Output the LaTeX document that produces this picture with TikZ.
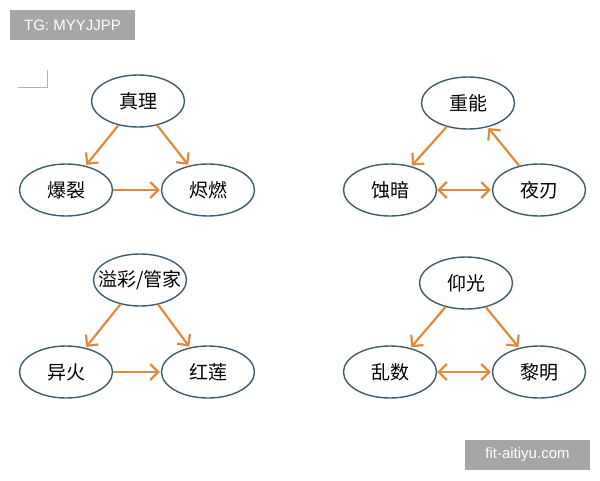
\documentclass[tikz,border=0pt]{standalone}
\usepackage{fontspec}
\setmainfont{Liberation Sans}
\newfontfamily\cjk{Noto Sans CJK SC}
\usetikzlibrary{arrows.meta,shapes.geometric}
\definecolor{rimblue}{HTML}{3F5B6E}
\definecolor{arrorange}{HTML}{E2893B}
\definecolor{tagGray}{HTML}{A6A6A6}
\tikzset{
  skill/.style={ellipse, draw=rimblue, line width=1.4pt, minimum width=93pt, minimum height=52pt, inner sep=0pt, font=\cjk\fontsize{19}{19}\selectfont},
  link/.style={draw=arrorange, line width=2.2pt, -{Straight Barb[length=8pt,width=16pt]}, shorten >=1pt},
  both/.style={link, {Straight Barb[length=8pt,width=16pt]}-{Straight Barb[length=8pt,width=16pt]}},
  tag/.style={fill=tagGray, text=white, inner sep=0pt, minimum height=30pt, font=\fontsize{15}{15}\selectfont}
}
\begin{document}
\begin{tikzpicture}[x=1pt,y=-1pt]
    \useasboundingbox (0,0) rectangle (600,480);
    % tags
    \node[tag, minimum width=125pt] (tg) at (72.5,25) {TG: MYYJJPP};
    \node[tag, minimum width=125pt] (site) at (527.5,455) {fit-aitiyu.com};
    \draw[gray!60, line width=0.8pt] (18,87) -- (47,87) -- (47,70);

    % top left
    \node[skill] (zhenli) at (138,101) {真理};
    \node[skill] (baolie) at (66,190) {爆裂};
    \node[skill] (jinran) at (208,190) {烬燃};
    \draw[link] (zhenli) -- (baolie);
    \draw[link] (zhenli) -- (jinran);
    \draw[link] (baolie) -- (jinran);

    % top right
    \node[skill] (zhongneng) at (468,103) {重能};
    \node[skill] (shian) at (390,190) {蚀暗};
    \node[skill] (yeren) at (539,190) {夜刃};
    \draw[link] (zhongneng) -- (shian);
    \draw[link] (yeren) -- (zhongneng);
    \draw[both] (shian) -- (yeren);

    % bottom left
    \node[skill, inner xsep=-9pt] (yicai) at (140,280) {溢彩/管家};
    \node[skill] (yihuo) at (66,372) {异火};
    \node[skill] (honglian) at (208,372) {红莲};
    \draw[link] (yicai) -- (yihuo);
    \draw[link] (yicai) -- (honglian);
    \draw[link] (yihuo) -- (honglian);

    % bottom right
    \node[skill] (yangguang) at (466,283) {仰光};
    \node[skill] (luanshu) at (390,372) {乱数};
    \node[skill] (liming) at (539,372) {黎明};
    \draw[link] (yangguang) -- (luanshu);
    \draw[link] (yangguang) -- (liming);
    \draw[both] (luanshu) -- (liming);
\end{tikzpicture}
\end{document}
